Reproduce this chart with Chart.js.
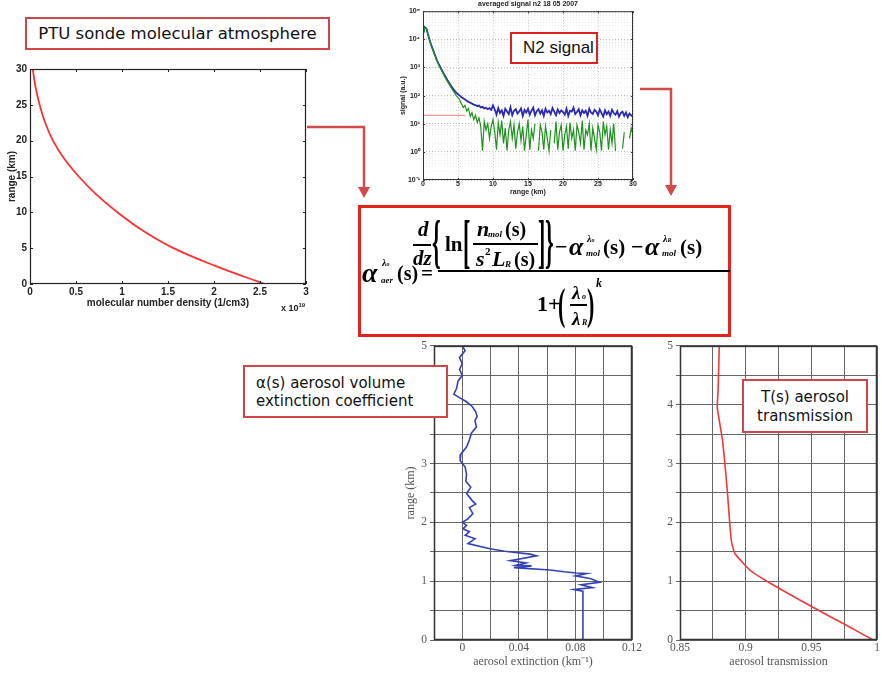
<!DOCTYPE html>
<html>
<head>
<meta charset="utf-8">
<title>Raman lidar aerosol retrieval</title>
<script src="https://cdn.jsdelivr.net/npm/chart.js@4.4.1/dist/chart.umd.min.js"></script>
<style>
  html, body { margin: 0; padding: 0; background: #fff; }
  body { width: 882px; height: 678px; position: relative; overflow: hidden; }
  .panel { position: absolute; }
  .panel canvas { display: block; }
  .tag {
    position: absolute; box-sizing: border-box; background: #fff;
    border: 2px solid #cf4646; color: #111; z-index: 5;
    font-family: 'Comic Sans MS', 'DejaVu Sans', sans-serif;
  }
  .note { position: absolute; white-space: nowrap; z-index: 4; }
  .eq span, .eq div { position: absolute; z-index: 6; }
  .eq span {
    transform: translateY(-50%); line-height: 1; white-space: nowrap;
    font-family: 'Liberation Serif', 'Times New Roman', serif; font-weight: bold; color: #000;
  }
  .eq .i { font-style: italic; }
  .eq .big { transform: translateY(-50%) scaleY(2.7); }
  .eq .mid { transform: translateY(-50%) scaleY(2.0); }
  .eq .bar { height: 2px; background: #000; }
  svg { position: absolute; left: 0; top: 0; z-index: 3; }
</style>
</head>
<body>

<!-- PTU sonde density profile -->
<div class="panel" style="left:0;top:60px"><canvas id="ptu-chart" width="312" height="253"></canvas></div>
<div class="note" style="left:281px;top:302px;font:bold 9px 'Liberation Sans',Arial,sans-serif;color:#222">x 10<sup style="font-size:6px">19</sup></div>
<div class="tag" style="left:25px;top:17px;width:305px;height:33px;font-size:16.5px;line-height:29px;text-align:center;white-space:nowrap">PTU sonde molecular atmosphere</div>

<!-- N2 Raman signal -->
<div class="panel" style="left:395px;top:4px"><canvas id="n2-chart" width="246" height="196"></canvas></div>
<div class="note" style="left:428px;top:0;width:200px;text-align:center;font:bold 7px 'Liberation Sans',Arial,sans-serif;color:#222">averaged signal n2 18 05 2007</div>
<div class="tag" style="left:510px;top:32px;width:88px;height:32px;border-color:#e0201c;font:17px 'Liberation Sans',Arial,sans-serif;line-height:28px;padding-left:11px;white-space:nowrap">N2 signal</div>

<!-- arrows into the retrieval -->
<svg width="882" height="678">
  <g stroke="#d24a4a" stroke-width="2.5" fill="none">
    <polyline points="307,127 364,127 364,192"/>
    <polyline points="640,89 671,89 671,190"/>
  </g>
  <g fill="#d24a4a">
    <polygon points="358,187 370,187 364,198"/>
    <polygon points="665,185 677,185 671,196"/>
  </g>
</svg>

<!-- extinction retrieval -->
<div class="tag" style="left:358px;top:205px;width:373px;height:132px;border:3px solid #e5231d;z-index:2"></div>
<div class="eq">
  <span class="i" style="left:362px;top:273px;font-size:28px">α</span>
  <span class="i" style="left:382px;top:263px;font-size:10px">λ<small style="font-size:6px">o</small></span>
  <span class="i" style="left:381px;top:280px;font-size:9px">aer</span>
  <span style="left:397px;top:273px;font-size:20px">(s)</span>
  <span style="left:421px;top:273px;font-size:21px">=</span>
  <div class="bar" style="left:438px;top:270px;width:292px"></div>

  <span class="i" style="left:418px;top:229px;font-size:21px">d</span>
  <div class="bar" style="left:413px;top:244px;width:18px"></div>
  <span class="i" style="left:413px;top:258px;font-size:21px">dz</span>
  <span class="big" style="left:432px;top:242px;font-size:22px">{</span>
  <span style="left:445px;top:244px;font-size:21px">ln</span>
  <span class="big" style="left:463px;top:242px;font-size:22px">[</span>
  <span class="i" style="left:477px;top:229px;font-size:22px">n</span>
  <span class="i" style="left:488px;top:234px;font-size:9px">mol</span>
  <span style="left:505px;top:229px;font-size:20px">(s)</span>
  <div class="bar" style="left:473px;top:243px;width:65px"></div>
  <span class="i" style="left:476px;top:259px;font-size:22px">s</span>
  <span style="left:485px;top:251px;font-size:11px">2</span>
  <span class="i" style="left:492px;top:259px;font-size:22px">L</span>
  <span class="i" style="left:505px;top:264px;font-size:9px">R</span>
  <span style="left:514px;top:259px;font-size:20px">(s)</span>
  <span class="big" style="left:538px;top:242px;font-size:22px">]</span>
  <span class="big" style="left:545px;top:242px;font-size:22px">}</span>

  <span style="left:555px;top:247px;font-size:22px">−</span>
  <span class="i" style="left:569px;top:247px;font-size:26px">α</span>
  <span class="i" style="left:587px;top:239px;font-size:10px">λ<small style="font-size:6px">o</small></span>
  <span class="i" style="left:586px;top:253px;font-size:9px">mol</span>
  <span style="left:603px;top:247px;font-size:21px">(s)</span>
  <span style="left:631px;top:247px;font-size:22px">−</span>
  <span class="i" style="left:645px;top:247px;font-size:26px">α</span>
  <span class="i" style="left:663px;top:239px;font-size:10px">λ<small style="font-size:6px">R</small></span>
  <span class="i" style="left:662px;top:253px;font-size:9px">mol</span>
  <span style="left:680px;top:247px;font-size:21px">(s)</span>

  <span style="left:537px;top:304px;font-size:22px">1+</span>
  <span class="mid" style="left:558px;top:305px;font-size:22px">(</span>
  <span class="i" style="left:572px;top:292px;font-size:19px">λ</span>
  <span class="i" style="left:582px;top:297px;font-size:8px">o</span>
  <div class="bar" style="left:570px;top:304px;width:17px"></div>
  <span class="i" style="left:572px;top:318px;font-size:19px">λ</span>
  <span class="i" style="left:582px;top:323px;font-size:8px">R</span>
  <span class="mid" style="left:587px;top:305px;font-size:22px">)</span>
  <span class="i" style="left:596px;top:283px;font-size:12px">k</span>
</div>

<!-- aerosol extinction profile -->
<div class="panel" style="left:400px;top:336px"><canvas id="ext-chart" width="246" height="337"></canvas></div>
<div class="tag" style="left:243px;top:365px;width:205px;height:53px;font-size:15px;line-height:18px;padding:7px 0 0 11px;white-space:nowrap">α(s) aerosol volume<br>extinction coefficient</div>

<!-- aerosol transmission profile -->
<div class="panel" style="left:648px;top:336px"><canvas id="trans-chart" width="234" height="337"></canvas></div>
<div class="tag" style="left:742px;top:379px;width:126px;height:54px;font-size:15px;line-height:19px;padding-top:7px;text-align:center;white-space:nowrap">T(s) aerosol<br>transmission</div>

<script>
// ─── Data ──────────────────────────────────────────────────────

// PTU sonde: molecular number density (x 1e19 cm^-3) vs range (km)
const PTU_RANGE_KM = [0, 2.5, 5, 7.5, 10, 12.5, 15, 17.5, 20, 22.5, 25, 27.5, 30];
const PTU_DENSITY = [2.55, 2.02, 1.56, 1.22, 0.95, 0.72, 0.53, 0.37, 0.25, 0.165, 0.105, 0.06, 0.03];
const PTU_DENSITY_TICKS = [0, 0.5, 1, 1.5, 2, 2.5, 3];

// averaged N2 Raman signal, 0.25 km bins
const N2_RANGE_KM = Array.from({ length: 121 }, (_, i) => i * 0.25);
const N2_RAW = [
  15000, 27000, 24000, 14000, 8500, 5600, 3800, 2600, 1800, 1300,
  1000, 760, 580, 450, 350, 280, 225, 180, 150, 128,
  112, 100, 88, 80, 72, 66, 60, 56, 52, 48,
  46, 42, 44, 38, 40, 35, 37, 33, 36, 31,
  45,
  32, 21, 36, 24, 30, 19, 34, 27, 22, 38, 20, 29, 33, 23, 27, 35, 19, 31, 25, 34,
  21, 29, 37, 20, 28, 33, 23, 30, 19, 34, 25, 29, 22, 36, 27, 20, 32, 24, 30, 26,
  21, 34, 19, 29, 27, 37, 22, 26, 33, 20, 30, 24, 29, 19, 34, 25, 22, 31, 27, 20,
  32, 24, 18, 30, 22, 27, 19, 31, 24, 21, 28, 18, 24, 27, 19, 25, 17, 23, 20, 17,
];
const N2_BG_SUBTRACTED = [
  14000, 26000, 23000, 13500, 8200, 5400, 3600, 2450, 1700, 1220,
  930, 700, 530, 410, 315, 250, 195, 155, 125, 100,
  85, 70, 50, 38, 45, 28, 35, 18, 25, 14,
  20, 11, 16, 8, 1.1, 12, 6, 10, 3, 8,
  14,
  5, 1.2, 11, 4, 13, 2, 7, 1.1, 6, 12, 3, 9, 1.3, 5, 10, 2.5, 8, 1.1, 4, 14,
  1.2, 6, 3, 10, null, 1.1, 9, 5, 1.2, 8, 3, 1.1, 6, null, 2, 12, 1.2, 5, 9, 1.1,
  4, 8, 1.3, 11, 3, 6, 1.1, 9, 5, 2, 13, 1.2, 6, 4, 10, 1.1, 7, 3, 1.2, 9,
  5, 1.1, 12, 4, 8, 1.2, 6, 2, 10, 1.1, null, null, null, 1.3, 5, null, null, 3, 7, 4,
];
const N2_BACKGROUND_LEVEL = 20;
const N2_BACKGROUND_SPAN_KM = [0, 6];
const N2_DECADES = [-1, 0, 1, 2, 3, 4, 5];

// retrieved aerosol extinction (km^-1) vs range (km)
const EXT_RANGE_KM = [
  5.00, 4.92, 4.80, 4.70, 4.60, 4.50, 4.40, 4.28, 4.18, 4.12,
  4.05, 3.97, 3.88, 3.80, 3.73, 3.62, 3.52, 3.40, 3.28, 3.16,
  3.05, 2.94, 2.82, 2.70, 2.60, 2.49, 2.37, 2.31, 2.25, 2.15,
  2.06, 2.00, 1.95, 1.89, 1.84, 1.78, 1.72, 1.64, 1.55, 1.51,
  1.46, 1.43, 1.35, 1.31, 1.27, 1.26, 1.23, 1.19, 1.16, 1.14,
  1.13, 1.09, 1.04, 0.98, 0.94, 0.89, 0.86, 0.83, 0.00,
];
const EXT_VALUE = [
  0.000, 0.002, -0.002, 0.000, -0.002, 0.000, -0.003, -0.004, -0.006, -0.002,
  0.003, 0.007, 0.0095, 0.0105, 0.009, 0.010, 0.0065, 0.005, 0.003, -0.001,
  -0.0015, 0.002, 0.003, 0.0025, 0.006, 0.003, 0.007, 0.0095, 0.005, 0.0075,
  0.004, 0.000, 0.003, 0.0005, 0.005, 0.002, 0.009, 0.004, 0.0195, 0.030,
  0.048, 0.0525, 0.034, 0.045, 0.038, 0.049, 0.0365, 0.062, 0.072, 0.0805,
  0.088, 0.080, 0.091, 0.097, 0.084, 0.092, 0.079, 0.0853, 0.0853,
];
const EXT_LABELED_TICKS = [0, 0.04, 0.08, 0.12];

// aerosol transmission vs range (km)
const TRANS_RANGE_KM = [5, 4.24, 3.95, 3.39, 2.54, 1.70, 1.47, 1.19, 1.02, 0.62, 0.25, 0];
const TRANS_VALUE = [0.8799, 0.879, 0.8784, 0.8824, 0.886, 0.889, 0.8918, 0.9032, 0.9146, 0.946, 0.9767, 0.997];
const TRANS_LABELED_TICKS = [0.85, 0.9, 0.95, 1];

// ─── Helpers ───────────────────────────────────────────────────

const SUPERSCRIPT = { '-': '⁻', 0: '⁰', 1: '¹', 2: '²', 3: '³', 4: '⁴', 5: '⁵' };
const sup = n => String(n).split('').map(c => SUPERSCRIPT[c]).join('');
const isDecade = v => N2_DECADES.some(e => Math.abs(Math.log10(v) - e) < 1e-9);
const points = (xs, ys) => xs.map((x, i) => ({ x, y: ys[i] }));
const onTick = (list, v) => list.some(t => Math.abs(t - v) < 1e-6);

// plot frame plus short inward tick marks (matlab-style axes box)
const frameTicks = {
  id: 'frameTicks',
  afterDatasetsDraw(chart, args, opts) {
    const { ctx, chartArea: a, scales } = chart;
    const len = opts.len || 0;
    ctx.save();
    ctx.strokeStyle = opts.color || '#222';
    ctx.lineWidth = 1;
    if (len) {
      ctx.beginPath();
      scales.x.ticks.forEach(t => {
        const px = Math.round(scales.x.getPixelForValue(t.value)) + 0.5;
        ctx.moveTo(px, a.bottom); ctx.lineTo(px, a.bottom - len);
        ctx.moveTo(px, a.top); ctx.lineTo(px, a.top + len);
      });
      scales.y.ticks.forEach(t => {
        if (opts.yFilter && !opts.yFilter(t.value)) return;
        const py = Math.round(scales.y.getPixelForValue(t.value)) + 0.5;
        ctx.moveTo(a.left, py); ctx.lineTo(a.left + len, py);
        ctx.moveTo(a.right, py); ctx.lineTo(a.right - len, py);
      });
      ctx.stroke();
    }
    ctx.lineWidth = opts.width || 1;
    ctx.strokeRect(a.left + 0.5, a.top + 0.5, a.width - 1, a.height - 1);
    ctx.restore();
  },
};

const fixWidth = w => scale => { scale.width = w; };
const fixHeight = h => scale => { scale.height = h; };

Chart.defaults.animation = false;
Chart.defaults.responsive = false;
Chart.defaults.plugins.legend.display = false;
Chart.defaults.plugins.tooltip.enabled = false;

// ─── PTU sonde ─────────────────────────────────────────────────

function renderPtuChart() {
  const font = { family: "'Liberation Sans', Arial, sans-serif", size: 10, weight: 'bold' };
  new Chart(document.getElementById('ptu-chart'), {
    type: 'scatter',
    data: {
      datasets: [{
        data: points(PTU_DENSITY, PTU_RANGE_KM),
        showLine: true,
        borderColor: '#ff3030',
        borderWidth: 1.8,
        pointRadius: 0,
        tension: 0.4,
      }],
    },
    options: {
      layout: { padding: { top: 7, right: 6 } },
      scales: {
        x: {
          min: 0, max: 3,
          ticks: {
            stepSize: 0.5, color: '#222', font, padding: 2,
            callback: v => onTick(PTU_DENSITY_TICKS, v) ? String(+v.toFixed(1)) : '',
          },
          grid: { display: false, drawTicks: false },
          border: { display: false },
          title: { display: true, text: 'molecular number density (1/cm3)', color: '#222', font },
          afterFit: fixHeight(29),
        },
        y: {
          min: 0, max: 30,
          ticks: { stepSize: 5, color: '#222', font, padding: 3 },
          grid: { display: false, drawTicks: false },
          border: { display: false },
          title: { display: true, text: 'range (km)', color: '#222', font, padding: { top: 6, bottom: 0 } },
          afterFit: fixWidth(30),
        },
      },
      plugins: { frameTicks: { len: 3, color: '#222', width: 1.2 } },
    },
    plugins: [frameTicks],
  });
}

// ─── N2 signal ─────────────────────────────────────────────────

function renderN2Chart() {
  const font = { family: "'Liberation Sans', Arial, sans-serif", size: 7, weight: 'bold' };
  new Chart(document.getElementById('n2-chart'), {
    type: 'scatter',
    data: {
      datasets: [
        {
          data: points(N2_BACKGROUND_SPAN_KM, N2_BACKGROUND_SPAN_KM.map(() => N2_BACKGROUND_LEVEL)),
          showLine: true, borderColor: '#ff5a5a', borderWidth: 0.8, pointRadius: 0, order: 3,
        },
        {
          data: points(N2_RANGE_KM, N2_RAW),
          showLine: true, borderColor: '#2a2ab0', borderWidth: 1.8, pointRadius: 0, order: 2,
        },
        {
          data: points(N2_RANGE_KM, N2_BG_SUBTRACTED),
          showLine: true, borderColor: '#1e931e', borderWidth: 1.2, pointRadius: 0, order: 1,
        },
      ],
    },
    options: {
      layout: { padding: { top: 7, right: 8 } },
      scales: {
        x: {
          min: 0, max: 30,
          ticks: { stepSize: 5, color: '#222', font, padding: 0 },
          grid: { color: '#c4c4c4', drawTicks: false },
          border: { display: false, dash: [1, 2] },
          title: { display: true, text: 'range (km)', color: '#222', font },
          afterFit: fixHeight(20),
        },
        y: {
          type: 'logarithmic',
          min: 0.1, max: 1e5,
          ticks: {
            autoSkip: false, color: '#222', font, padding: 3,
            callback: v => isDecade(v) ? '10' + sup(Math.round(Math.log10(v))) : '',
          },
          grid: {
            drawTicks: false,
            color: ctx => (ctx.tick && isDecade(ctx.tick.value)) ? '#bdbdbd' : '#ececec',
          },
          border: { display: false, dash: [1, 2] },
          title: { display: true, text: 'signal (a.u.)', color: '#222', font },
          afterFit: fixWidth(28),
        },
      },
      plugins: { frameTicks: { len: 2, color: '#333', width: 1, yFilter: isDecade } },
    },
    plugins: [frameTicks],
  });
}

// ─── Aerosol profiles ──────────────────────────────────────────

const SERIF = "'Liberation Serif', 'Times New Roman', serif";
const tickFont = { family: SERIF, size: 11.5 };
const titleFont = { family: SERIF, size: 12 };

function profileOptions({ xMin, xMax, xStep, labeled, yTitle, xTitle, yWidth, padRight }) {
  return {
    layout: { padding: { top: 9, right: padRight } },
    scales: {
      x: {
        min: xMin, max: xMax,
        ticks: {
          stepSize: xStep, autoSkip: false, color: '#555', font: tickFont, padding: 1,
          callback: v => onTick(labeled, v) ? String(+v.toFixed(3)) : '',
        },
        grid: { color: '#666', lineWidth: 1, drawTicks: false },
        border: { display: false },
        title: { display: true, text: xTitle, color: '#555', font: titleFont },
        afterFit: fixHeight(33),
      },
      y: {
        min: 0, max: 5,
        ticks: {
          stepSize: 0.5, autoSkip: false, color: '#555', font: tickFont, padding: 3,
          callback: v => Number.isInteger(v) ? String(v) : '',
        },
        grid: { color: '#666', lineWidth: 1, tickLength: 4 },
        border: { display: false },
        title: { display: !!yTitle, text: yTitle || '', color: '#555', font: titleFont },
        afterFit: fixWidth(yWidth),
      },
    },
    plugins: { frameTicks: { len: 0, color: '#333', width: 1.5 } },
  };
}

function renderExtinctionChart() {
  new Chart(document.getElementById('ext-chart'), {
    type: 'scatter',
    data: {
      datasets: [{
        data: points(EXT_VALUE, EXT_RANGE_KM),
        showLine: true, borderColor: '#3442b4', borderWidth: 1.6, pointRadius: 0,
      }],
    },
    options: profileOptions({
      xMin: -0.02, xMax: 0.12, xStep: 0.02, labeled: EXT_LABELED_TICKS,
      yTitle: 'range (km)', xTitle: 'aerosol extinction (km⁻¹)', yWidth: 34, padRight: 14,
    }),
    plugins: [frameTicks],
  });
}

function renderTransmissionChart() {
  new Chart(document.getElementById('trans-chart'), {
    type: 'scatter',
    data: {
      datasets: [{
        data: points(TRANS_VALUE, TRANS_RANGE_KM),
        showLine: true, borderColor: '#f03a3a', borderWidth: 1.6, pointRadius: 0, tension: 0.15,
      }],
    },
    options: profileOptions({
      xMin: 0.85, xMax: 1, xStep: 0.025, labeled: TRANS_LABELED_TICKS,
      yTitle: null, xTitle: 'aerosol transmission', yWidth: 32, padRight: 5,
    }),
    plugins: [frameTicks],
  });
}

renderPtuChart();
renderN2Chart();
renderExtinctionChart();
renderTransmissionChart();
</script>
</body>
</html>
